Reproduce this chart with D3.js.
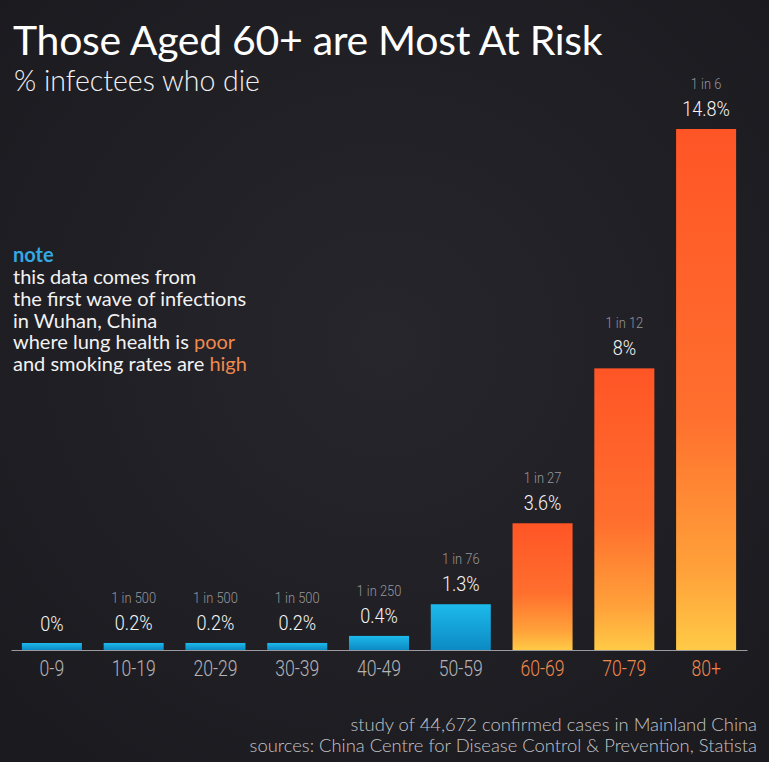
<!DOCTYPE html>
<html>
<head>
<meta charset="utf-8">
<script src="https://cdn.jsdelivr.net/npm/d3@7"></script>
<style>
  html, body { margin: 0; padding: 0; background: #1e1d22; }
  svg { display: block; }
</style>
</head>
<body>
<div id="chart"></div>
<script>
const ageGroups = ["0-9", "10-19", "20-29", "30-39", "40-49", "50-59", "60-69", "70-79", "80+"];
const deathRates = [0, 0.2, 0.2, 0.2, 0.4, 1.3, 3.6, 8, 14.8];
const rateLabels = ["0%", "0.2%", "0.2%", "0.2%", "0.4%", "1.3%", "3.6%", "8%", "14.8%"];
const oneInLabels = ["", "1 in 500", "1 in 500", "1 in 500", "1 in 250", "1 in 76", "1 in 27", "1 in 12", "1 in 6"];
const riskGroups = ["60-69", "70-79", "80+"];
const noteLines = ["this data comes from", "the first wave of infections", "in Wuhan, China"];
const footerLines = ["study of 44,672 confirmed cases in Mainland China",
                     "sources: China Centre for Disease Control & Prevention, Statista"];

const width = 769, height = 762;
const baseY = 650;
const geo = "'Lato', 'Open Sans', sans-serif";
const narrow = "'Roboto', 'DejaVu Sans', sans-serif";
const squeeze = 0.86;

let svg = d3.select("#chart")
    .append("svg")
    .attr("width", width)
    .attr("height", height);

let defs = svg.append("defs");
let bg = defs.append("radialGradient").attr("id", "bg").attr("cx", "50%").attr("cy", "45%").attr("r", "70%");
bg.append("stop").attr("offset", "0%").attr("stop-color", "#27262c");
bg.append("stop").attr("offset", "100%").attr("stop-color", "#1b1a1f");

let hot = defs.append("linearGradient").attr("id", "hot").attr("x1", 0).attr("y1", 0).attr("x2", 0).attr("y2", 1);
hot.append("stop").attr("offset", "0%").attr("stop-color", "#ff5526");
hot.append("stop").attr("offset", "55%").attr("stop-color", "#ff6f2e");
hot.append("stop").attr("offset", "85%").attr("stop-color", "#ffa23a");
hot.append("stop").attr("offset", "100%").attr("stop-color", "#ffca46");

let cool = defs.append("linearGradient").attr("id", "cool").attr("x1", 0).attr("y1", 0).attr("x2", 0).attr("y2", 1);
cool.append("stop").attr("offset", "0%").attr("stop-color", "#1dbaeb");
cool.append("stop").attr("offset", "100%").attr("stop-color", "#0c8ac4");

svg.append("rect").attr("width", width).attr("height", height).attr("fill", "url(#bg)");

// scales
let x = d3.scaleBand()
    .domain(ageGroups)
    .range([11, 747])
    .paddingInner(0.266)
    .paddingOuter(0.133);
let y = d3.scaleLinear()
    .domain([0, 14.8])
    .range([baseY, 129]);

function barTop(v) {
    // tiny values still get a visible stub
    return Math.min(y(v), baseY - 6);
}
let mid = d => x(d) + x.bandwidth() / 2;

// bars
svg.append("g")
    .selectAll("rect")
    .data(ageGroups)
    .enter()
    .append("rect")
    .attr("x", d => x(d))
    .attr("width", x.bandwidth())
    .attr("y", (d, i) => barTop(deathRates[i]) - (i === 0 ? 1 : 0))
    .attr("height", (d, i) => baseY - barTop(deathRates[i]) + (i === 0 ? 1 : 0))
    .attr("fill", d => riskGroups.includes(d) ? "url(#hot)" : "url(#cool)");

// baseline + age labels
let axis = d3.axisBottom(x).tickSize(0).tickPadding(10);
let axisG = svg.append("g")
    .attr("transform", `translate(0, ${baseY})`)
    .call(axis);
axisG.select(".domain").attr("stroke", "#9a9aa0").attr("stroke-width", 1.2);
axisG.selectAll(".tick text")
    .attr("font-family", narrow)
    .attr("font-size", 22)
    .attr("font-weight", 300)
    .attr("dy", "0.72em")
    .attr("transform", `scale(0.8,1)`)
    .attr("fill", d => riskGroups.includes(d) ? "#f0894e" : "#b4b4b8");

// value labels
let labels = svg.append("g")
    .selectAll("g")
    .data(ageGroups)
    .enter()
    .append("g")
    .attr("transform", (d, i) => `translate(${mid(d)}, ${barTop(deathRates[i])})`);
labels.append("text")
    .attr("y", -13)
    .attr("transform", `scale(${squeeze},1)`)
    .attr("text-anchor", "middle")
    .attr("font-family", narrow)
    .attr("font-size", 21)
    .attr("font-weight", 300)
    .attr("fill", "#f6f6f6")
    .text((d, i) => rateLabels[i]);
labels.append("text")
    .attr("y", -40)
    .attr("transform", `scale(${squeeze},1)`)
    .attr("text-anchor", "middle")
    .attr("font-family", narrow)
    .attr("font-size", 15)
    .attr("font-weight", 300)
    .attr("fill", "#96969c")
    .text((d, i) => oneInLabels[i]);

// title
svg.append("text")
    .attr("x", 13).attr("y", 55)
    .attr("font-family", geo)
    .attr("font-size", 41)
    .attr("letter-spacing", -0.3)
    .attr("fill", "#ffffff")
    .text("Those Aged 60+ are Most At Risk");
svg.append("text")
    .attr("x", 14).attr("y", 91)
    .attr("font-family", geo)
    .attr("font-size", 28.5)
    .attr("font-weight", 300)
    .attr("fill", "#f0f0f0")
    .text("% infectees who die");

// note
let note = svg.append("g").attr("font-family", geo).attr("font-size", 20).attr("fill", "#f2f2f2");
note.append("text").attr("x", 13).attr("y", 262)
    .attr("font-weight", 700).attr("fill", "#34a8e2").text("note");
note.selectAll(".line")
    .data(noteLines)
    .enter()
    .append("text")
    .attr("class", "line")
    .attr("x", 13)
    .attr("y", (d, i) => 284 + i * 21.8)
    .text(d => d);
let l4 = note.append("text").attr("x", 13).attr("y", 284 + 3 * 21.8);
l4.append("tspan").text("where lung health is ");
l4.append("tspan").attr("fill", "#f0894e").text("poor");
let l5 = note.append("text").attr("x", 13).attr("y", 284 + 4 * 21.8);
l5.append("tspan").text("and smoking rates are ");
l5.append("tspan").attr("fill", "#f0894e").text("high");

// footer
svg.append("g")
    .selectAll("text")
    .data(footerLines)
    .enter()
    .append("text")
    .attr("x", 757)
    .attr("y", (d, i) => 731 + i * 21)
    .attr("text-anchor", "end")
    .attr("font-family", geo)
    .attr("font-size", 18.4)
    .attr("font-weight", 300)
    .attr("fill", "#c4c4c8")
    .text(d => d);
</script>
</body>
</html>
